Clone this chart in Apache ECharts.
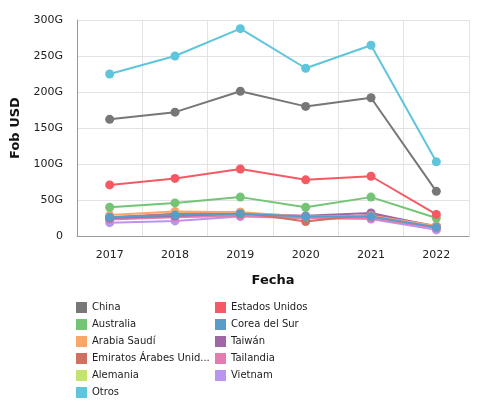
<!DOCTYPE html>
<html><head><meta charset="utf-8">
<script src="https://cdn.jsdelivr.net/npm/echarts@6/dist/echarts.min.js"></script>
<style>html,body{margin:0;padding:0;background:#fff}#c{width:489px;height:406px}</style>
</head><body><div id="c"></div>
<script>
var years = ['2017','2018','2019','2020','2021','2022'];
var china = [162, 172, 201, 180, 192, 62];
var estadosUnidos = [71, 80, 93, 78, 83, 30];
var australia = [40, 46, 54, 40, 54, 25];
var coreaDelSur = [26, 29, 31, 27, 27, 12];
var arabiaSaudi = [29, 34, 33, 27, 28, 14];
var taiwan = [25, 28, 31, 28, 32, 13];
var emiratos = [26, 31, 33, 20, 30, 14];
var tailandia = [23, 26, 28, 25, 25, 11];
var alemania = [24, 28, 31, 25, 27, 12];
var vietnam = [18.5, 21, 27, 24.5, 23.5, 8.5];
var otros = [225, 250, 288, 233, 265, 103];

var names = ['China','Estados Unidos','Australia','Corea del Sur','Arabia Saudí','Taiwán','Emiratos Árabes Unidos','Tailandia','Alemania','Vietnam','Otros'];
var values = [china, estadosUnidos, australia, coreaDelSur, arabiaSaudi, taiwan, emiratos, tailandia, alemania, vietnam, otros];
var colors = ['#777777','#f55a64','#74c476','#5b9bc8','#f9a66b','#a066a8','#cf7060','#e57bb0','#c5e36f','#b994f0','#5fc5dc'];

var font = 'DejaVu Sans';
var series = names.map(function(n,i){
  return {name:n, type:'line', data:values[i], symbol:'circle', symbolSize:9,
    lineStyle:{width:2, color:colors[i]}, itemStyle:{color:colors[i]}, z: 10-i*0.1};
});
var legendBase = {orient:'vertical', itemWidth:11, itemHeight:11, itemGap:6, icon:'rect', padding:0, height:110,
  formatter:function(n){return n.length > 20 ? n.slice(0,20) + '...' : n;},
  textStyle:{fontFamily:font, fontSize:10, color:'#222'}};
var chart = echarts.init(document.getElementById('c'), null, {renderer:'canvas'});
chart.setOption({
  animation:false,
  color: colors,
  grid:{left:77, right:20, top:20, bottom:170},
  legend:[
    Object.assign({left:76, top:302, data:['China','Australia','Arabia Saudí','Emiratos Árabes Unidos','Alemania','Otros']}, legendBase),
    Object.assign({left:215, top:302, data:['Estados Unidos','Corea del Sur','Taiwán','Tailandia','Vietnam']}, legendBase)
  ],
  xAxis:{type:'category', data:years, boundaryGap:true,
    name:'Fecha', nameLocation:'middle', nameGap:38,
    nameTextStyle:{fontFamily:font, fontSize:13, fontWeight:'bold', color:'#111'},
    axisLine:{lineStyle:{color:'#999'}}, axisTick:{show:false},
    axisLabel:{fontFamily:font, fontSize:11, color:'#222', margin:14},
    splitLine:{show:true, lineStyle:{color:'#e3e3e3'}}},
  yAxis:{type:'value', min:0, max:300, interval:50,
    name:'Fob USD', nameLocation:'middle', nameGap:46, nameRotate:90,
    nameTextStyle:{fontFamily:font, fontSize:13, fontWeight:'bold', color:'#111'},
    axisLine:{show:true, lineStyle:{color:'#999'}}, axisTick:{show:false},
    axisLabel:{fontFamily:font, fontSize:11, color:'#222', margin:14,
      formatter:function(v){return v===0?'0':v+'G';}},
    splitLine:{show:true, lineStyle:{color:'#e3e3e3'}}},
  series: series
});
</script></body></html>
